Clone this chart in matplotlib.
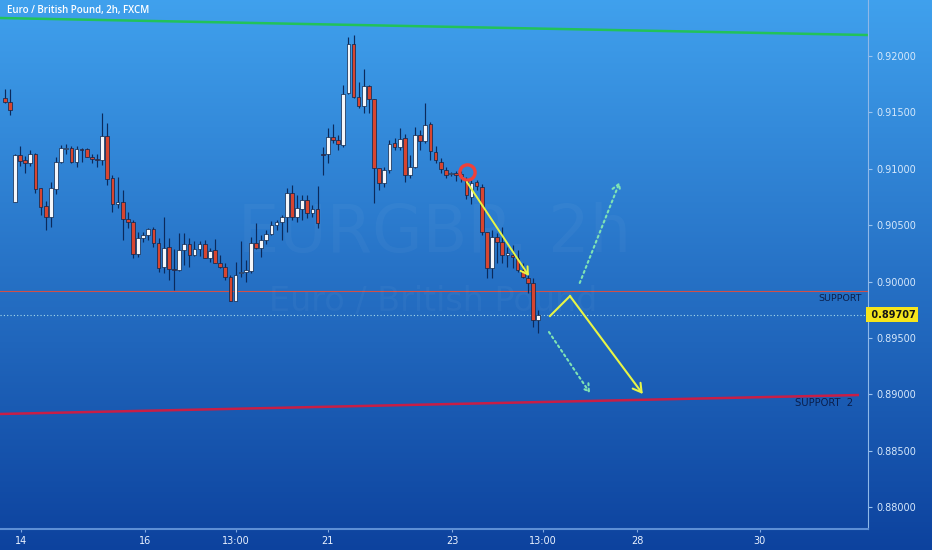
import numpy as np
import matplotlib
matplotlib.use('Agg')
import matplotlib.pyplot as plt
from matplotlib.transforms import blended_transform_factory

# EURGBP 2h candles
opens = [0.91627, 0.91592, 0.90705, 0.91122, 0.91078, 0.91051, 0.91131, 0.90829, 0.90670, 0.90572,
         0.90820, 0.91060, 0.91175, 0.91184, 0.91060, 0.91175, 0.91175, 0.91104, 0.91086, 0.91078,
         0.91290, 0.90918, 0.90687, 0.90705, 0.90554, 0.90528, 0.90244, 0.90386, 0.90412, 0.90465,
         0.90341, 0.90128, 0.90306, 0.90111, 0.90102, 0.90279, 0.90332, 0.90235, 0.90288, 0.90332,
         0.90208, 0.90279, 0.90164, 0.90128, 0.90040, 0.89827, 0.90075, 0.90084, 0.90093, 0.90341,
         0.90297, 0.90368, 0.90421, 0.90501, 0.90528, 0.90572, 0.90785, 0.90572, 0.90643, 0.90723,
         0.90607, 0.90643, 0.91131, 0.91131, 0.91282, 0.91255, 0.91211, 0.91672, 0.92106, 0.91636,
         0.91556, 0.91734, 0.91619, 0.91007, 0.90874, 0.90989, 0.91228, 0.91193, 0.91273, 0.90944,
         0.91015, 0.91299, 0.91246, 0.91397, 0.91148, 0.91060, 0.90989, 0.90953, 0.90962, 0.90953,
         0.90900, 0.90749, 0.90882, 0.90838, 0.90439, 0.90120, 0.90395, 0.90350, 0.90235, 0.90235,
         0.90208, 0.90102, 0.90031, 0.89986, 0.89658]
highs = [0.91707, 0.91707, 0.91131, 0.91202, 0.91113, 0.91166, 0.91140, 0.90829, 0.90714, 0.90882,
         0.91104, 0.91211, 0.91219, 0.91202, 0.91202, 0.91184, 0.91184, 0.91131, 0.91131, 0.91494,
         0.91406, 0.90944, 0.90927, 0.90811, 0.90616, 0.90545, 0.90439, 0.90439, 0.90474, 0.90483,
         0.90386, 0.90572, 0.90386, 0.90288, 0.90430, 0.90430, 0.90386, 0.90359, 0.90359, 0.90368,
         0.90297, 0.90377, 0.90235, 0.90164, 0.90057, 0.90173, 0.90359, 0.90191, 0.90395, 0.90519,
         0.90412, 0.90457, 0.90536, 0.90545, 0.90590, 0.90829, 0.90856, 0.90767, 0.90767, 0.90767,
         0.90678, 0.90847, 0.91193, 0.91361, 0.91397, 0.91299, 0.91743, 0.92169, 0.92186, 0.91769,
         0.91885, 0.91743, 0.91619, 0.91007, 0.91015, 0.91255, 0.91273, 0.91361, 0.91308, 0.91122,
         0.91370, 0.91344, 0.91583, 0.91415, 0.91202, 0.91095, 0.91015, 0.90971, 0.90980, 0.90980,
         0.90927, 0.90900, 0.90900, 0.90865, 0.90439, 0.90457, 0.90430, 0.90483, 0.90306, 0.90324,
         0.90279, 0.90164, 0.90057, 0.90031, 0.89747]
lows = [0.91583, 0.91477, 0.90705, 0.91024, 0.90962, 0.91024, 0.90785, 0.90590, 0.90457, 0.90483,
        0.90776, 0.91051, 0.91131, 0.91051, 0.91015, 0.91060, 0.91104, 0.91051, 0.91015, 0.91033,
        0.90856, 0.90616, 0.90652, 0.90368, 0.90474, 0.90208, 0.90217, 0.90350, 0.90368, 0.90306,
        0.90084, 0.90075, 0.90013, 0.89924, 0.90093, 0.90146, 0.90128, 0.90226, 0.90226, 0.90208,
        0.90173, 0.90164, 0.90120, 0.90013, 0.89827, 0.89827, 0.90040, 0.89995, 0.90075, 0.90288,
        0.90217, 0.90332, 0.90412, 0.90457, 0.90368, 0.90439, 0.90545, 0.90528, 0.90545, 0.90563,
        0.90572, 0.90474, 0.90944, 0.91051, 0.91228, 0.91166, 0.91193, 0.91663, 0.91627, 0.91539,
        0.91494, 0.91494, 0.90696, 0.90811, 0.90838, 0.90962, 0.91166, 0.91166, 0.90882, 0.90918,
        0.91007, 0.91166, 0.91228, 0.91078, 0.91051, 0.90962, 0.90918, 0.90936, 0.90891, 0.90882,
        0.90732, 0.90687, 0.90811, 0.90412, 0.90031, 0.90031, 0.90164, 0.90164, 0.90128, 0.90120,
        0.90084, 0.90031, 0.89898, 0.89596, 0.89543]
closes = [0.91592, 0.91521, 0.91122, 0.91069, 0.91051, 0.91131, 0.90820, 0.90661, 0.90572, 0.90829,
          0.91060, 0.91184, 0.91184, 0.91060, 0.91175, 0.91170, 0.91104, 0.91086, 0.91078, 0.91290,
          0.90909, 0.90687, 0.90705, 0.90554, 0.90528, 0.90244, 0.90386, 0.90412, 0.90465, 0.90341,
          0.90120, 0.90297, 0.90111, 0.90106, 0.90279, 0.90332, 0.90235, 0.90288, 0.90332, 0.90208,
          0.90270, 0.90164, 0.90128, 0.90040, 0.89827, 0.90057, 0.90084, 0.90102, 0.90341, 0.90297,
          0.90368, 0.90421, 0.90501, 0.90528, 0.90572, 0.90785, 0.90572, 0.90652, 0.90723, 0.90607,
          0.90643, 0.90519, 0.91122, 0.91282, 0.91255, 0.91219, 0.91663, 0.92106, 0.91636, 0.91556,
          0.91734, 0.91619, 0.91007, 0.90874, 0.90989, 0.91219, 0.91193, 0.91264, 0.90944, 0.91015,
          0.91299, 0.91246, 0.91388, 0.91157, 0.91078, 0.90998, 0.90944, 0.90962, 0.90944, 0.90936,
          0.90767, 0.90874, 0.90847, 0.90439, 0.90120, 0.90395, 0.90350, 0.90235, 0.90253, 0.90217,
          0.90102, 0.90040, 0.89986, 0.89658, 0.89707]

time_tick_pos = [3.2, 27.3, 45.1, 63.0, 87.2, 104.9, 123.3, 147.2]
time_tick_labels = ['14', '16', '13:00', '21', '23', '13:00', '28', '30']
price_ticks = [0.880, 0.885, 0.890, 0.895, 0.900, 0.905, 0.910, 0.915, 0.920]
last_price = 0.89707
support_level = 0.89916

# drawings (bar index, price)
green_line = ([-0.92, 168.3], [0.92337, 0.92186])
red_line = ([-0.92, 166.3], [0.88825, 0.88993])
circle_pt = (90.1, 0.90971)
arrow_down = ((90.1, 0.90882), (102.2, 0.90049))
zigzag = ([106.3, 110.2, 124.4], [0.89694, 0.89871, 0.89002])
dot_up = ((112.1, 0.89987), (119.9, 0.90882))
dot_down = ((106.1, 0.89552), (114.1, 0.89011))

W, H = 932, 550
fig = plt.figure(figsize=(W / 100, H / 100), dpi=100)

# blue gradient background
bg = fig.add_axes([0, 0, 1, 1])
top = np.array([0.25, 0.63, 0.93])
bot = np.array([0.05, 0.26, 0.62])
t = np.linspace(0, 1, 256)[:, None]
grad = top * (1 - t) + bot * t
bg.imshow(grad[:, None, :], aspect='auto', extent=[0, 1, 0, 1])
bg.axis('off')

ax = fig.add_axes([0, 21 / H, 868 / W, 529 / H])
ax.set_facecolor('none')
ax.set_xlim(-0.916, 168.3)
ax.set_ylim(0.878049, 0.924967)

# watermark
ax.text(0.501, 0.558, 'EURGBP, 2h', transform=ax.transAxes, ha='center', va='center',
        fontsize=47, color='white', alpha=0.035)
ax.text(0.499, 0.431, 'Euro / British Pound', transform=ax.transAxes, ha='center', va='center',
        fontsize=24, color='white', alpha=0.035)

o = np.array(opens); c = np.array(closes)
x = np.arange(len(o))
up = c >= o
ax.vlines(x, lows, highs, color='#0b2a5c', lw=0.85, zorder=3)
ax.bar(x, np.maximum(np.abs(c - o), 0.00004), bottom=np.minimum(o, c), width=0.72,
       color=np.where(up, '#f4f6fa', '#d8452f'), edgecolor='#0c2348', linewidth=0.5, zorder=4)

ax.axhline(support_level, color='#d0504a', lw=0.8, zorder=2)
ax.axhline(last_price, color='#a8dcec', lw=0.8, ls=(0, (1, 2)), zorder=2)
ax.plot(*green_line, color='#22c25a', lw=1.8, zorder=2)
ax.plot(*red_line, color='#c81e46', lw=1.8, zorder=2)

ax.plot(*circle_pt, 'o', ms=11, mfc='none', mec='#f0413a', mew=2.4, zorder=6)

yellow = '#e8f545'
ax.annotate('', xy=arrow_down[1], xytext=arrow_down[0],
            arrowprops=dict(arrowstyle='->,head_length=0.5,head_width=0.3', color=yellow,
                            lw=1.4, shrinkA=0, shrinkB=0), zorder=6)
ax.plot(zigzag[0][:2], zigzag[1][:2], color=yellow, lw=1.5, zorder=6)
ax.annotate('', xy=(zigzag[0][2], zigzag[1][2]), xytext=(zigzag[0][1], zigzag[1][1]),
            arrowprops=dict(arrowstyle='->,head_length=0.6,head_width=0.35', color=yellow,
                            lw=1.5, shrinkA=0, shrinkB=0), zorder=6)
mint = '#7fe3b4'
for a, b in (dot_up, dot_down):
    ax.annotate('', xy=b, xytext=a,
                arrowprops=dict(arrowstyle='->,head_length=0.5,head_width=0.3', color=mint,
                                lw=1.5, ls=(0, (1, 1.6)), shrinkA=0, shrinkB=0), zorder=6)

bt = blended_transform_factory(ax.transAxes, ax.transData)
ax.text(0.993, 0.89852, 'SUPPORT', transform=bt, ha='right', va='center',
        fontsize=6.8, color='#0a1f4d')
ax.text(0.983, 0.88922, 'SUPPORT  2', transform=bt, ha='right', va='center',
        fontsize=7.2, color='#0a1f4d')

# axes styling
for s in ('top', 'left'):
    ax.spines[s].set_visible(False)
ax.spines['right'].set_color('#8fb8e8')
ax.spines['right'].set_linewidth(0.8)
ax.spines['bottom'].set_color('#5d8fd6')
ax.spines['bottom'].set_linewidth(1.5)

ax.yaxis.tick_right()
ax.set_yticks(price_ticks)
ax.set_yticklabels([f'{v:.5f}' for v in price_ticks])
ax.tick_params(axis='y', colors='#9cc3ee', labelcolor='#d6e8fb', length=3, width=0.8,
               pad=3, labelsize=7)
ax.set_xticks(time_tick_pos)
ax.set_xticklabels(time_tick_labels)
ax.tick_params(axis='x', colors='#7fa8e0', labelcolor='#eaf2ff', length=2, width=0.8,
               pad=3, labelsize=7)

ax.text(1.0, last_price, ' 0.89707', transform=bt, ha='left', va='center', fontsize=7,
        color='#151515', fontweight='bold', clip_on=False, zorder=10,
        bbox=dict(boxstyle='square,pad=0.22', fc='#f6e51c', ec='none'))

fig.text(7 / W, 1 - 11 / H, 'Euro / British Pound, 2h, FXCM', ha='left', va='center',
         fontsize=7, color='white', fontweight='semibold', family='Open Sans')

fig.savefig('out.png', dpi=100)
